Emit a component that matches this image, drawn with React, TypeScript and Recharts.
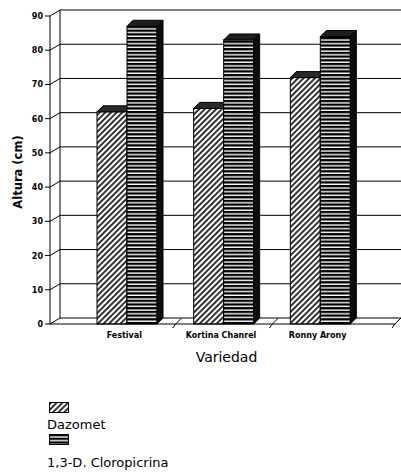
import React from 'react';
import { BarChart, Bar, XAxis, YAxis, CartesianGrid, Legend } from 'recharts';

const categories = ['Festival', 'Kortina Chanrel', 'Ronny Arony'];
const dazomet = [62, 63, 72];
const cloropicrina = [87, 83, 84];
const yTicks = [0, 10, 20, 30, 40, 50, 60, 70, 80, 90];
const seriesNames = ['Dazomet', '1,3-D. Cloropicrina'];
const xTitle = 'Variedad';
const yTitle = 'Altura (cm)';

const data = categories.map((c, i) => ({ name: c, dazomet: dazomet[i], cloro: cloropicrina[i] }));

const DX = 10;
const DY = 6;
const BD = 6;
const PAD_LEFT = 29;
const PAD_RIGHT = 26;
const BOLD_FONT = '"DejaVu Sans", sans-serif';
const LIGHT_FONT = '"DejaVu Sans", sans-serif';

const Bar3D = (props: any) => {
  const { x, y, width, height, fill, topFill, sideFill } = props;
  if (width == null || height == null) return null;
  return (
    <g>
      <rect x={x} y={y} width={width} height={height} fill={fill} stroke="#000" strokeWidth={1} />
      <polygon
        points={`${x},${y} ${x + BD},${y - BD} ${x + width + BD},${y - BD} ${x + width},${y}`}
        fill={topFill}
        stroke="#000"
        strokeWidth={1}
      />
      <polygon
        points={`${x + width},${y} ${x + width + BD},${y - BD} ${x + width + BD},${y + height - BD} ${x + width},${y + height}`}
        fill={sideFill}
        stroke="#000"
        strokeWidth={1}
      />
    </g>
  );
};

const YTick = (props: any) => {
  const { x, y, payload } = props;
  return (
    <g>
      <text x={x - 7} y={y + 3} textAnchor="end" fontSize={8} fontWeight="bold" fontFamily={BOLD_FONT} fill="#000">
        {payload.value}
      </text>
      <line x1={x - 5} y1={y} x2={x} y2={y} stroke="#000" strokeWidth={1} />
      <line x1={x} y1={y} x2={x + DX} y2={y - DY} stroke="#000" strokeWidth={1} />
    </g>
  );
};

const XTick = (props: any) => {
  const { x, y, payload, index } = props;
  const half = payload && payload.offset ? payload.offset : 48;
  const isLast = index === categories.length - 1;
  const bx = x + half + (isLast ? PAD_RIGHT : 0);
  return (
    <g>
      <text x={x - 3} y={y + 14} textAnchor="middle" fontSize={8} fontWeight="bold" fontFamily={BOLD_FONT} fill="#000">
        {payload.value}
      </text>
      <line x1={bx - 3} y1={y + 4} x2={bx} y2={y} stroke="#000" strokeWidth={1} />
      <line x1={bx} y1={y} x2={bx + DX * 0.6} y2={y - DY} stroke="#000" strokeWidth={1} />
    </g>
  );
};

const LegendContent = (props: any) => {
  const payload = props.payload || [];
  const fillOf = (name: string, i: number) => {
    const p = payload.find((e: any) => e.value === name);
    if (p) return p.payload && p.payload.fill ? p.payload.fill : p.color;
    return i === 0 ? 'url(#hatchDaz)' : 'url(#stripeCl)';
  };
  const items = seriesNames.map((n, i) => ({ name: n, fill: fillOf(n, i) }));
  return (
    <div style={{ fontFamily: LIGHT_FONT, fontSize: 13, color: '#000', lineHeight: '14px' }}>
      {items.map((it: any, i: number) => (
        <div key={i} style={{ height: i === 0 ? 32 : 40 }}>
          <svg width={21} height={12} style={{ display: 'block', marginLeft: 2 }}>
            <rect x={0.5} y={0.5} width={19} height={10} fill={it.fill} stroke="#000" strokeWidth={1} />
          </svg>
          <div style={{ marginTop: i === 0 ? 4 : 10 }}>{it.name}</div>
        </div>
      ))}
    </div>
  );
};

const YTitle = (props: any) => {
  const vb = props.viewBox || { x: 0, y: 16, width: 50, height: 308 };
  const cx = vb.x + 22;
  const cy = vb.y + vb.height / 2 + 2;
  return (
    <text
      x={cx}
      y={cy}
      transform={`rotate(-90 ${cx} ${cy})`}
      textAnchor="middle"
      fontSize={11.5}
      fontWeight="bold"
      fontFamily={BOLD_FONT}
      fill="#000"
    >
      {yTitle}
    </text>
  );
};

const XTitle = (props: any) => {
  const vb = props.viewBox || { x: 50, y: 324, width: 345, height: 40 };
  return (
    <text x={vb.x + vb.width / 2 + 4} y={vb.y + 38} textAnchor="middle" fontSize={14} fontFamily={LIGHT_FONT} fill="#000">
      {xTitle}
    </text>
  );
};

const hLine = (p: any) => (
  <line key={p.key} x1={p.x1 + DX} y1={p.y1 - DY} x2={p.x2 + DX + 20} y2={p.y2 - DY} stroke="#000" strokeWidth={1} />
);
const vLine = (p: any) => (
  <line key={p.key} x1={p.x1 + DX} y1={p.y1 - DY} x2={p.x2 + DX} y2={p.y2 - DY} stroke="#000" strokeWidth={1} />
);

export default function App() {
  return (
    <div style={{ position: 'absolute', left: 0, top: 0, background: '#fff' }}>
      <BarChart
        width={401}
        height={475}
        data={data}
        margin={{ top: 16, right: 6, bottom: 111, left: 0 }}
        barGap={0}
        barSize={30}
      >
        <defs>
          <pattern id="hatchDaz" patternUnits="userSpaceOnUse" width="4" height="4" patternTransform="rotate(45)">
            <rect width="4" height="4" fill="#fff" />
            <line x1="2" y1="0" x2="2" y2="4" stroke="#000" strokeWidth="1.6" />
          </pattern>
          <pattern id="stripeCl" patternUnits="userSpaceOnUse" width="6" height="3.7">
            <rect width="6" height="3.7" fill="#fff" />
            <rect x="0" y="0" width="6" height="2.3" fill="#000" />
          </pattern>
        </defs>
        <CartesianGrid
          horizontal={hLine}
          vertical={vLine}
          verticalCoordinatesGenerator={({ offset }: any) => [offset.left]}
        />
        <XAxis
          dataKey="name"
          height={40}
          padding={{ left: PAD_LEFT, right: PAD_RIGHT }}
          tickSize={0}
          tickMargin={0}
          tickLine={false}
          axisLine={{ stroke: '#000', strokeWidth: 1 }}
          tick={<XTick />}
          interval={0}
          label={<XTitle />}
        />
        <YAxis
          width={50}
          domain={[0, 90]}
          ticks={yTicks}
          tickSize={0}
          tickMargin={0}
          tickLine={false}
          axisLine={{ stroke: '#000', strokeWidth: 1 }}
          tick={<YTick />}
          interval={0}
          label={<YTitle />}
        />
        <Legend
          layout="horizontal"
          align="center"
          verticalAlign="middle"
          wrapperStyle={{ left: 47, top: 402, width: 220, height: 73 }}
          content={<LegendContent />}
        />
        <Bar
          dataKey="dazomet"
          name={seriesNames[0]}
          fill="url(#hatchDaz)"
          isAnimationActive={false}
          shape={(p: any) => <Bar3D {...p} topFill="#2a2a2a" sideFill="#111" />}
        />
        <Bar
          dataKey="cloro"
          name={seriesNames[1]}
          fill="url(#stripeCl)"
          isAnimationActive={false}
          shape={(p: any) => <Bar3D {...p} topFill="#1e1e1e" sideFill="#0d0d0d" />}
        />
      </BarChart>
    </div>
  );
}
